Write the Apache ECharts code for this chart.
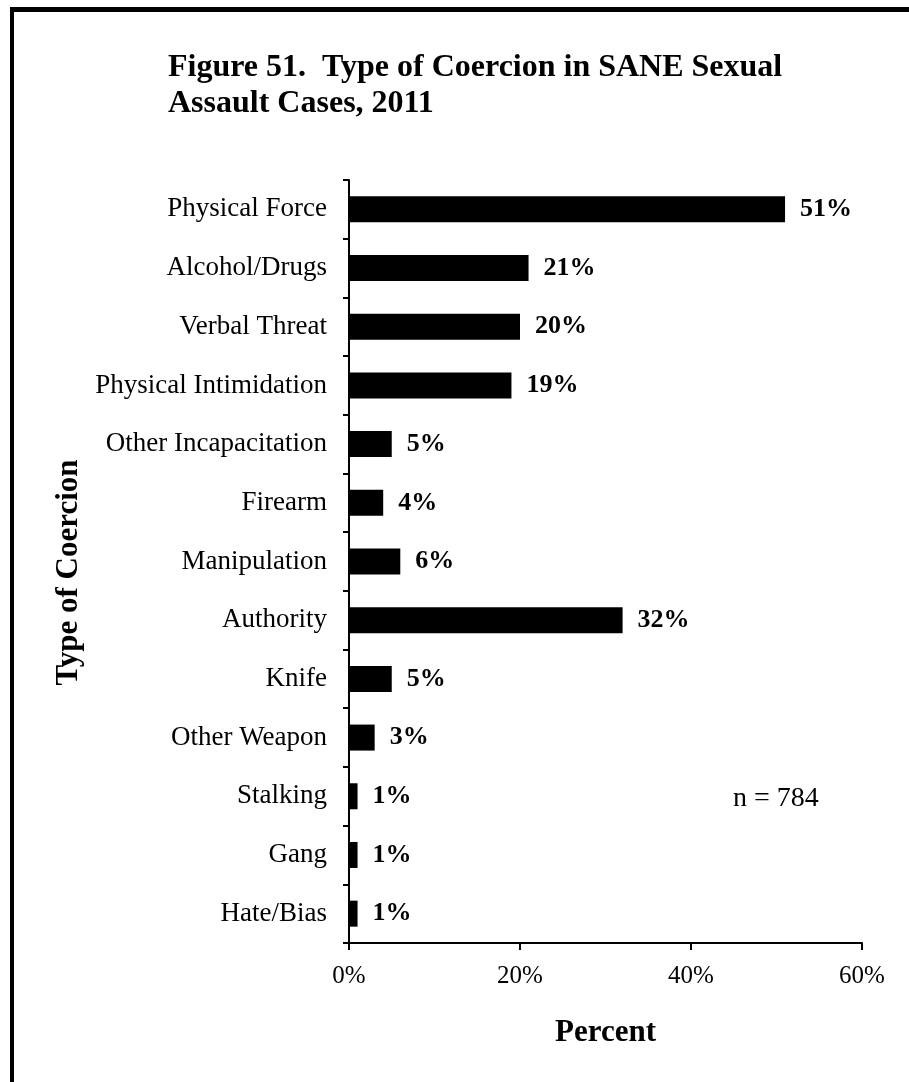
<!DOCTYPE html>
<html>
<head>
<meta charset="utf-8">
<script src="https://cdn.jsdelivr.net/npm/echarts@6/dist/echarts.min.js"></script>
<style>
  html, body { margin: 0; padding: 0; background: #fff; }
  #main { width: 909px; height: 1082px; }
</style>
</head>
<body>
<div id="main"></div>
<script>
// 数据
var categories = ['Physical Force', 'Alcohol/Drugs', 'Verbal Threat', 'Physical Intimidation',
	'Other Incapacitation', 'Firearm', 'Manipulation', 'Authority', 'Knife',
	'Other Weapon', 'Stalking', 'Gang', 'Hate/Bias'];
var values = [51, 21, 20, 19, 5, 4, 6, 32, 5, 3, 1, 1, 1];
var xTicks = [0, 20, 40, 60];
var sampleNote = 'n = 784';

var FONT = '"Liberation Serif", "Times New Roman", serif';

echarts.init(document.getElementById('main')).setOption({
	backgroundColor: '#fff',
	animation: false,
	title: {
		text: 'Figure 51.  Type of Coercion in SANE Sexual\nAssault Cases, 2011',
		left: 163,
		top: 45,
		textStyle: {
			fontFamily: FONT,
			fontWeight: 'bold',
			fontSize: 32,
			lineHeight: 36,
			color: '#000'
		}
	},
	grid: {
		left: 349,
		right: 47,
		top: 180,
		bottom: 139
	},
	xAxis: {
		type: 'value',
		min: 0,
		max: 60,
		interval: 20,
		name: 'Percent',
		nameLocation: 'middle',
		nameGap: 74,
		nameTextStyle: { fontFamily: FONT, fontWeight: 'bold', fontSize: 31, color: '#000' },
		axisLine: { show: true, lineStyle: { color: '#000', width: 2 } },
		axisTick: { show: true, length: 7, lineStyle: { color: '#000', width: 2 } },
		splitLine: { show: false },
		axisLabel: {
			margin: 21,
			fontFamily: FONT,
			fontSize: 25,
			color: '#000',
			formatter: function (v) { return xTicks.indexOf(v) >= 0 ? v + '%' : ''; }
		}
	},
	yAxis: {
		type: 'category',
		inverse: true,
		data: categories,
		name: 'Type of Coercion',
		nameLocation: 'middle',
		nameRotate: 90,
		nameGap: 265,
		nameTextStyle: {
			fontFamily: FONT, fontWeight: 'bold', fontSize: 31, color: '#000',
			padding: [0, 22, 0, 0]
		},
		axisLine: { show: true, lineStyle: { color: '#000', width: 2 } },
		axisTick: { show: true, length: 6, lineStyle: { color: '#000', width: 2 } },
		axisLabel: {
			margin: 22,
			fontFamily: FONT,
			fontSize: 27,
			color: '#000'
		}
	},
	series: [{
		type: 'bar',
		data: values,
		barWidth: 26,
		itemStyle: { color: '#000' },
		label: {
			show: true,
			position: 'right',
			distance: 15,
			fontFamily: FONT,
			fontWeight: 'bold',
			fontSize: 26,
			color: '#000',
			formatter: '{c}%'
		}
	}],
	graphic: [
		// 外框（左、上）
		{ type: 'rect', shape: { x: 10, y: 7, width: 899, height: 5 }, style: { fill: '#000' } },
		{ type: 'rect', shape: { x: 10, y: 7, width: 4, height: 1075 }, style: { fill: '#000' } },
		{
			type: 'text',
			left: 733,
			top: 785,
			style: { text: sampleNote, font: '28px ' + FONT, fill: '#000' }
		}
	]
});
</script>
</body>
</html>
